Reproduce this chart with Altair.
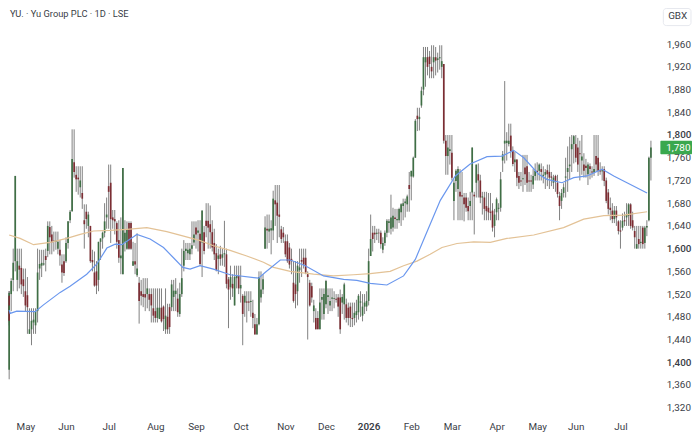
import altair as alt
import pandas as pd

opens = [
1387,1517,1490,1520,1545,1578,1545,1570,1566,1546,
1525,1518,1450,1458,1470,1465,1490,1565,1570,1572,
1587,1596,1638,1625,1614,1612,1600,1598,1572,1578,
1578,1610,1650,1666,1752,1730,1725,1708,1698,1650,
1665,1640,1640,1580,1558,1560,1545,1612,1618,1628,
1655,1710,1716,1655,1652,1645,1615,1583,1555,1612,
1600,1645,1645,1570,1578,1553,1540,1525,1520,1520,
1520,1520,1520,1495,1490,1478,1476,1496,1498,1458,
1480,1497,1497,1515,1520,1512,1485,1520,1570,1596,
1592,1590,1600,1611,1637,1628,1626,1611,1629,1649,
1649,1643,1629,1610,1592,1582,1590,1584,1590,1590,
1546,1532,1538,1500,1548,1552,1530,1517,1505,1507,
1507,1506,1487,1467,1449,1467,1514,1528,1600,1635,
1630,1632,1632,1685,1681,1660,1634,1628,1613,1613,
1602,1582,1540,1537,1525,1562,1580,1584,1584,1555,
1540,1534,1490,1478,1478,1458,1510,1485,1502,1515,
1500,1512,1512,1512,1514,1514,1505,1502,1502,1496,
1498,1478,1478,1483,1488,1505,1482,1498,1498,1508,
1587,1628,1628,1626,1628,1628,1598,1610,1628,1645,
1635,1637,1655,1650,1650,1664,1675,1680,1678,1712,
1727,1727,1760,1834,1828,1852,1880,1928,1937,1938,
1920,1928,1937,1932,1935,1920,1925,
1790,1763,1772,1769,1684,1719,1705,1700,1694,1690,1690,
1675,1675,1699,1695,1716,1731,1720,1690,1690,1675,1672,
1665,1667,1640,1664,1670,1672,1755,1785,1786,1784,
1799,1772,1752,1757,1728,1720,1722,1743,1745,1720,1720,
1713,1728,1737,1737,1740,1728,1730,1738,1735,1727,1716,
1728,1716,1693,1684,1698,1725,1735,1745,1775,1784,1784,
1778,1768,1755,1748,1746,1731,1745,1736,1734,1763,1760,
1738,1736,1740,1720,1699,1672,1667,1652,1667,1648,1632,
1637,1650,1655,1658,1678,1650,1631,1600,1617,1610,1637,
1610,1637,1650,1760]
highs = [
1525,1525,1525,1548,1600,1728,1600,1600,1600,1565,
1565,1550,1495,1495,1495,1495,1600,1598,1598,1598,
1600,1648,1648,1640,1630,1630,1630,1615,1590,1590,
1620,1648,1668,1810,1810,1745,1745,1745,1745,1678,
1678,1665,1640,1598,1595,1578,1612,1618,1630,1680,
1690,1748,1748,1668,1668,1648,1650,1655,1742,1650,
1648,1648,1648,1612,1610,1627,1550,1545,1548,1548,
1548,1530,1530,1530,1530,1530,1530,1530,1500,1530,
1503,1503,1545,1545,1548,1530,1540,1600,1615,1610,
1610,1610,1648,1648,1648,1650,1650,1667,1640,1680,
1680,1676,1650,1635,1608,1600,1605,1600,1649,1600,
1550,1570,1555,1570,1570,1570,1570,1520,1525,1525,
1525,1525,1510,1485,1478,1560,1560,1555,1657,1660,
1660,1650,1702,1712,1712,1712,1640,1638,1625,1625,
1610,1600,1578,1578,1578,1600,1600,1600,1600,1560,
1545,1540,1510,1495,1490,1530,1530,1530,1545,1530,
1530,1530,1525,1520,1520,1528,1520,1540,1512,1505,
1505,1505,1505,1510,1520,1525,1520,1520,1525,1600,
1660,1640,1640,1635,1635,1632,1620,1632,1652,1652,
1695,1672,1670,1670,1672,1680,1688,1688,1695,1735,
1737,1762,1828,1848,1848,1885,1955,1955,1955,1948,
1958,1958,1955,1945,1958,1958,1925,
1800,1800,1800,1800,1722,1740,1745,1740,1735,1698,1698,
1690,1700,1778,1700,1748,1750,1730,1700,1700,1700,1698,
1698,1680,1670,1690,1680,1735,1772,1895,1805,1820,
1820,1780,1770,1757,1735,1735,1765,1765,1765,1735,1730,
1740,1750,1752,1750,1750,1745,1740,1748,1748,1735,1730,
1730,1730,1700,1705,1715,1760,1780,1797,1800,1800,1800,
1795,1790,1800,1768,1758,1752,1750,1745,1800,1800,1800,
1752,1745,1745,1725,1705,1690,1680,1675,1675,1650,1650,
1662,1665,1680,1680,1680,1665,1640,1640,1640,1640,1640,
1640,1650,1762,1790]
lows = [
1370,1465,1470,1490,1525,1560,1525,1530,1520,1515,
1490,1450,1450,1430,1450,1450,1470,1545,1550,1570,
1560,1585,1590,1590,1595,1598,1590,1570,1540,1552,
1575,1600,1645,1665,1725,1700,1695,1690,1670,1600,
1635,1620,1575,1560,1533,1520,1525,1580,1600,1620,
1635,1635,1610,1635,1625,1600,1575,1555,1555,1595,
1598,1598,1598,1570,1555,1550,1468,1500,1497,1490,
1495,1490,1470,1470,1470,1470,1480,1470,1455,1450,
1450,1450,1490,1490,1490,1480,1480,1515,1560,1580,
1580,1580,1590,1605,1600,1595,1570,1550,1590,1620,
1600,1600,1595,1580,1560,1555,1570,1570,1568,1530,
1460,1510,1515,1500,1530,1520,1505,1430,1480,1470,
1490,1480,1460,1449,1449,1465,1505,1520,1600,1600,
1610,1590,1615,1640,1610,1620,1610,1610,1585,1575,
1565,1555,1505,1495,1500,1540,1550,1565,1555,1440,
1498,1505,1470,1458,1458,1458,1475,1475,1495,1485,
1490,1490,1495,1505,1480,1450,1485,1475,1470,1465,
1462,1462,1465,1470,1475,1480,1472,1485,1490,1500,
1587,1595,1610,1615,1610,1600,1592,1605,1620,1628,
1625,1630,1635,1635,1645,1640,1650,1655,1665,1665,
1685,1725,1760,1807,1808,1848,1870,1885,1905,1900,
1900,1900,1905,1910,1915,1900,1785,
1730,1730,1748,1720,1650,1700,1650,1650,1650,1648,1665,
1650,1650,1650,1625,1690,1690,1680,1660,1650,1650,1650,
1650,1630,1620,1650,1650,1665,1735,1750,1755,1780,
1760,1745,1735,1710,1705,1710,1700,1712,1700,1700,1700,
1705,1720,1720,1720,1720,1715,1705,1710,1705,1710,1705,
1700,1690,1650,1670,1690,1690,1700,1722,1735,1750,1752,
1735,1720,1730,1725,1725,1712,1722,1725,1728,1735,1728,
1730,1720,1710,1680,1660,1650,1645,1645,1640,1625,1600,
1632,1640,1640,1640,1635,1632,1600,1600,1600,1600,1600,
1600,1622,1648,1720]
closes = [
1522,1473,1500,1543,1575,1728,1578,1563,1537,1534,
1500,1497,1458,1473,1475,1490,1558,1573,1575,1574,
1580,1640,1620,1611,1612,1614,1612,1588,1558,1557,
1610,1648,1665,1758,1735,1722,1722,1720,1688,1643,
1652,1660,1578,1576,1535,1535,1612,1618,1628,1648,
1660,1700,1652,1650,1648,1612,1584,1588,1742,1628,
1634,1600,1600,1578,1572,1565,1508,1517,1515,1514,
1530,1510,1500,1482,1478,1496,1496,1472,1476,1482,
1458,1462,1537,1526,1526,1488,1520,1548,1596,1600,
1598,1600,1606,1625,1625,1632,1573,1667,1596,1640,
1637,1629,1602,1590,1562,1588,1582,1590,1592,1538,
1528,1550,1530,1550,1552,1530,1536,1485,1517,1505,
1505,1508,1478,1449,1467,1550,1528,1546,1637,1632,
1635,1636,1688,1678,1658,1656,1617,1620,1590,1578,
1572,1578,1508,1520,1570,1567,1577,1572,1558,1550,
1500,1514,1500,1458,1458,1505,1515,1520,1543,1518,
1508,1514,1513,1510,1498,1458,1515,1537,1478,1478,
1478,1476,1487,1490,1517,1507,1498,1505,1508,1578,
1617,1617,1625,1628,1627,1608,1610,1628,1649,1648,
1655,1658,1652,1652,1670,1678,1680,1683,1692,1705,
1737,1760,1825,1828,1832,1878,1937,1937,1920,1925,
1912,1937,1931,1935,1937,1930,1790,
1763,1778,1775,1725,1716,1737,1740,1692,1692,1678,1672,
1666,1684,1778,1692,1748,1720,1690,1692,1670,1666,1664,
1663,1637,1660,1687,1672,1722,1766,1790,1790,1790,
1772,1749,1757,1725,1716,1718,1724,1731,1716,1718,1718,
1728,1737,1735,1748,1735,1730,1735,1731,1725,1725,1725,
1718,1696,1675,1698,1708,1727,1742,1748,1784,1798,1760,
1748,1766,1762,1737,1742,1748,1740,1734,1740,1748,1737,
1736,1738,1719,1684,1670,1668,1652,1667,1655,1631,1630,
1649,1648,1660,1678,1640,1637,1620,1608,1608,1612,1608,
1637,1640,1760,1778]

ma_fast_pos = [0,2.5,5.75,14.8,18.9,27.1,32,40.2,45.2,50.1,54.2,57.5,64.9,71.4,78,82.9,87.5,91.1,96,102.6,
               110.8,124.8,128,135.5,140.4,147.8,156.8,166.7,173.2,179.8,188,196.2,202,209.3,214.3,
               221.7,229,237.3,244.7,250.4,255.4,262.7,266.8,274.2,280,286.5,294,299.7,307.9,316.1]
ma_fast = [1492,1486,1490,1489,1501,1523,1534,1555,1573,1601,1608,1607,1625,1617,1602,1584,1567,1564,1570,1564,
           1554,1548,1558,1580,1580,1570,1552,1546,1544,1539,1536,1552,1581,1643,1685,
           1728,1749,1762,1763,1773,1760,1731,1722,1716,1725,1728,1740,1728,1713,1698]
ma_slow_pos = [0,7.4,14,22.2,30.4,37,43.5,51.7,60,69.8,79.6,87.9,96.1,102.6,110.8,119,127.2,132.2,140.4,151.9,
               161.7,171.6,179.8,189.6,196.2,202.8,209.3,215.1,222.5,230.7,238.9,247.1,260.3,275,284.9,294.8,304.6,316.1]
ma_slow = [1624,1618,1607,1611,1618,1625,1631,1632,1634,1637,1630,1622,1614,1605,1597,1587,1576,1567,1560,1555,
           1552,1554,1556,1560,1570,1578,1590,1602,1609,1612,1611,1618,1624,1637,1652,1658,1659,1665]

price_ticks = list(range(1320, 1961, 40))
month_pos = [10,30,51,74,94,116,138,158,179,200,220,242,262,281,303]
month_names = ["May","Jun","Jul","Aug","Sep","Oct","Nov","Dec","2026","Feb","Mar","Apr","May","Jun","Jul"]
title_text = "YU. · Yu Group PLC · 1D · LSE"
last_price = 1780

bars = pd.DataFrame({"i": range(len(opens)), "o": opens, "h": highs, "l": lows, "c": closes})
bars["dir"] = ["up" if c >= o else "down" for o, c in zip(opens, closes)]

xs = alt.Scale(domain=[2, 330], range=[1.17, 675.1], clamp=True, nice=False, zero=False, padding=0)
ys = alt.Scale(domain=[1302.4, 2019.3], nice=False, zero=False)

x_axis = alt.Axis(
    values=month_pos,
    labelExpr="%s[indexof(%s, datum.value)]" % (month_names, month_pos),
    grid=False, domain=False, ticks=False, labelPadding=4, labelFont="Roboto", labelFontSize=10,
    labelColor="#3a3d46", labelOverlap=False, labelFlush=False, title=None,
    labelFontWeight={"condition": {"test": "datum.value == 179", "value": 600}, "value": 400},
)
y_axis = alt.Axis(
    orient="right", values=price_ticks, labelExpr="format(datum.value, ',')", grid=False, domain=False, ticks=False,
    labelPadding=6, labelFont="Roboto", labelFontSize=10, labelColor="#3a3d46", title=None, labelOverlap=False,
    labelFontWeight={"condition": {"test": "datum.value % 200 == 0", "value": 500}, "value": 400},
)

wicks = alt.Chart(bars).mark_rule(color="#808080", strokeWidth=1).encode(
    x=alt.X("i:Q", scale=xs, axis=x_axis),
    y=alt.Y("l:Q", scale=ys, axis=y_axis),
    y2="h:Q",
)
bodies = alt.Chart(bars).mark_bar(size=1.7).encode(
    x=alt.X("i:Q", scale=xs, axis=x_axis),
    y=alt.Y("o:Q", scale=ys, axis=y_axis),
    y2="c:Q",
    color=alt.Color("dir:N", scale=alt.Scale(domain=["up", "down"], range=["#3f6f45", "#7c2d33"]), legend=None),
)
fast = alt.Chart(pd.DataFrame({"i": ma_fast_pos, "v": ma_fast})).mark_line(color="#6a97ee", strokeWidth=1.2).encode(
    x=alt.X("i:Q", scale=xs, axis=x_axis), y=alt.Y("v:Q", scale=ys, axis=y_axis))
slow = alt.Chart(pd.DataFrame({"i": ma_slow_pos, "v": ma_slow})).mark_line(color="#e3c296", strokeWidth=1.2).encode(
    x=alt.X("i:Q", scale=xs, axis=x_axis), y=alt.Y("v:Q", scale=ys, axis=y_axis))

title = alt.Chart(pd.DataFrame({"t": [title_text]})).mark_text(
    align="left", baseline="middle", font="Roboto", fontSize=9.4, color="#3a3d46"
).encode(x=alt.value(2.1), y=alt.value(3.4), text="t:N")

gbx_box = alt.Chart(pd.DataFrame({"t": ["GBX"]})).mark_rect(
    fill="#ffffff", stroke="#e6e8ee", cornerRadius=3
).encode(x=alt.value(663), x2=alt.value(691), y=alt.value(-2), y2=alt.value(15.3))
gbx = alt.Chart(pd.DataFrame({"t": ["GBX"]})).mark_text(
    align="center", baseline="middle", font="Roboto", fontSize=10, color="#3a3d46"
).encode(x=alt.value(677.5), y=alt.value(5.7), text="t:N")

tag_box = alt.Chart(pd.DataFrame({"t": [last_price]})).mark_rect(fill="#3aa84e", cornerRadius=1).encode(
    x=alt.value(660), x2=alt.value(692), y=alt.value(131.9), y2=alt.value(145.4))
tag = alt.Chart(pd.DataFrame({"t": [last_price]})).mark_text(
    align="left", baseline="middle", font="Roboto", fontSize=10, color="#ffffff"
).encode(x=alt.value(666), y=alt.value(138.8), text=alt.Text("t:Q", format=","))

chart = alt.layer(wicks, bodies, slow, fast, title, gbx_box, gbx, tag_box, tag).properties(
    width=660, height=412,
    padding={"left": 0, "top": 0, "right": 32, "bottom": 13},
    autosize=alt.AutoSizeParams(type="none"),
    background="#ffffff",
).configure_view(stroke=None)

chart.save("out.html", embed_options={"renderer": "svg", "actions": False})
